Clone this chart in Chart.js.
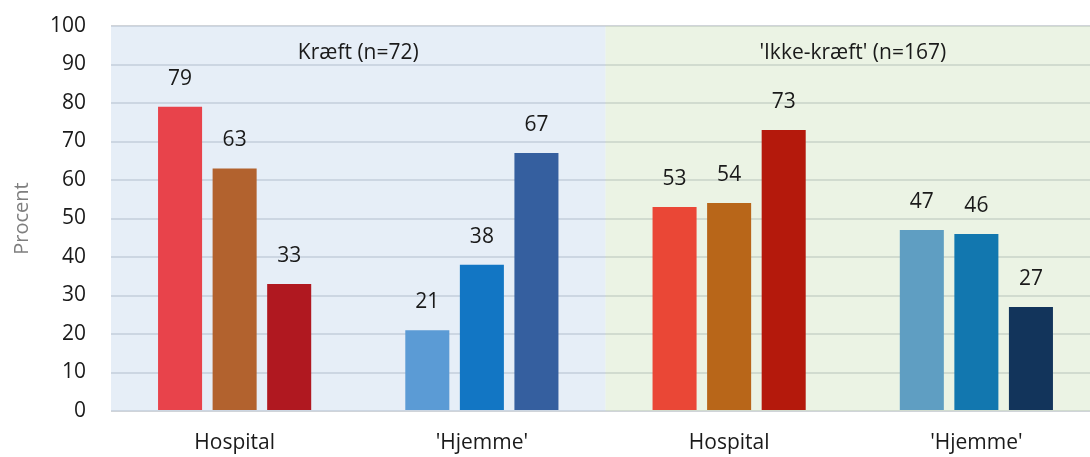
<!DOCTYPE html>
<html>
<head>
<meta charset="utf-8">
<script src="https://cdn.jsdelivr.net/npm/chart.js@4.4.1/dist/chart.umd.min.js"></script>
<style>
html, body { margin: 0; padding: 0; background: #fff; overflow: hidden; }
#wrap { width: 1090px; height: 457px; overflow: hidden; }
#wrap div { width: 1100px; height: 457px; position: relative; }
</style>
</head>
<body>
<div id="wrap"><div><canvas id="myChart"></canvas></div></div>
<script>
var categories = ['Hospital', "'Hjemme'", 'Hospital', "'Hjemme'"];
var panelLabels = ['Kræft (n=72)', "'Ikke-kræft' (n=167)"];
var firstBars = [79, 21, 53, 47];
var secondBars = [63, 38, 54, 46];
var thirdBars = [33, 67, 73, 27];

var firstColors = ['#E8434B', '#5B9BD5', '#EA4736', '#5F9EC2'];
var secondColors = ['#B2622E', '#1276C4', '#B86619', '#1277AF'];
var thirdColors = ['#B01820', '#355F9F', '#B4190C', '#12345B'];

var fontName = '"Open Sans", sans-serif';

// shaded panels behind the bars plus their titles
var panelPlugin = {
    id: 'panels',
    beforeDatasetsDraw: function (chart) {
        var ctx = chart.ctx;
        var x = chart.scales.x;
        var y = chart.scales.y;
        var area = chart.chartArea;
        var mid = (x.getPixelForValue(1) + x.getPixelForValue(2)) / 2;
        var top = y.getPixelForValue(100);
        var bottom = y.getPixelForValue(0);
        ctx.save();
        ctx.fillStyle = 'rgba(200,218,238,0.45)';
        ctx.fillRect(area.left, top, mid - area.left, bottom - top);
        ctx.fillStyle = 'rgba(210,228,196,0.45)';
        ctx.fillRect(mid, top, area.right - mid, bottom - top);
        ctx.restore();
    },
    afterDatasetsDraw: function (chart) {
        var ctx = chart.ctx;
        var x = chart.scales.x;
        var y = chart.scales.y;
        var area = chart.chartArea;
        var mid = (x.getPixelForValue(1) + x.getPixelForValue(2)) / 2;
        ctx.save();
        ctx.font = '21px ' + fontName;
        ctx.fillStyle = '#1a1a1a';
        ctx.textAlign = 'center';
        ctx.textBaseline = 'middle';
        ctx.fillText(panelLabels[0], (area.left + mid) / 2, y.getPixelForValue(93));
        ctx.fillText(panelLabels[1], (mid + area.right) / 2, y.getPixelForValue(93));

        // values above each bar
        chart.data.datasets.forEach(function (ds, i) {
            var meta = chart.getDatasetMeta(i);
            meta.data.forEach(function (bar, j) {
                ctx.fillText(ds.data[j], bar.x, bar.y - 28);
            });
        });
        ctx.restore();
    }
};

var ctx = document.getElementById('myChart');
var chart = new Chart(ctx, {
    type: 'bar',
    data: {
        labels: categories,
        datasets: [
            { data: firstBars, backgroundColor: firstColors },
            { data: secondBars, backgroundColor: secondColors },
            { data: thirdBars, backgroundColor: thirdColors }
        ]
    },
    options: {
        responsive: true,
        maintainAspectRatio: false,
        animation: false,
        categoryPercentage: 0.662,
        barPercentage: 0.807,
        layout: { padding: { top: 26, left: 0, right: 0, bottom: 0 } },
        plugins: {
            legend: { display: false },
            tooltip: { enabled: false }
        },
        scales: {
            x: {
                grid: { display: false },
                border: { display: false },
                ticks: { color: '#1a1a1a', font: { family: fontName, size: 21 }, padding: 11 },
                afterFit: function (scale) { scale.height = 46; }
            },
            y: {
                min: 0,
                max: 100,
                ticks: { stepSize: 10, color: '#1a1a1a', font: { family: fontName, size: 21 }, padding: 25 },
                grid: { color: 'rgba(150,160,170,0.45)', lineWidth: 2, drawTicks: false },
                border: { display: false },
                title: { display: true, text: 'Procent', color: '#7f7f7f', font: { family: fontName, size: 20 }, padding: { top: 10, bottom: 0 } },
                afterFit: function (scale) {
                    scale.width = 111;
                    scale.paddingTop = 0;
                    scale.paddingBottom = 0;
                }
            }
        }
    },
    plugins: [panelPlugin]
});
</script>
</body>
</html>
